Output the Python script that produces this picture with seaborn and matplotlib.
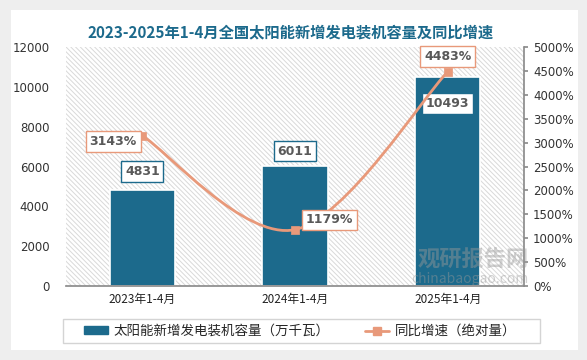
import numpy as np
import seaborn as sns
import matplotlib.pyplot as plt
import matplotlib.ticker as mticker
from matplotlib.path import Path
from matplotlib.patches import PathPatch, Rectangle

CATEGORIES = ["2023年1-4月", "2024年1-4月", "2025年1-4月"]
CAPACITY = [4831, 6011, 10493]          # 万千瓦
GROWTH = [3143, 1179, 4483]              # %
LEFT_TICKS = [0, 2000, 4000, 6000, 8000, 10000, 12000]
RIGHT_TICKS = [0, 500, 1000, 1500, 2000, 2500, 3000, 3500, 4000, 4500, 5000]

TITLE = "2023-2025年1-4月全国太阳能新增发电装机容量及同比增速"
BAR_LABEL = "太阳能新增发电装机容量（万千瓦）"
LINE_LABEL = "同比增速（绝对量）"

BAR_COLOR = "#1c6a8c"
LINE_COLOR = "#e8997a"
TEXT_GRAY = "#595959"

sns.set_theme(style="white")
plt.rcParams["font.family"] = ["Noto Sans CJK SC", "DejaVu Sans"]
plt.rcParams["hatch.linewidth"] = 0.7


def smooth_path(xs, ys):
    # excel style smoothed line: cubic bezier segments (catmull-rom control points)
    pts = np.column_stack([xs, ys]).astype(float)
    n = len(pts)
    verts = [pts[0]]
    codes = [Path.MOVETO]
    for i in range(n - 1):
        p_prev = pts[i - 1] if i > 0 else pts[i]
        p_next = pts[i + 2] if i + 2 < n else pts[i + 1]
        c1 = pts[i] + (pts[i + 1] - p_prev) / 6
        c2 = pts[i + 1] - (p_next - pts[i]) / 6
        verts += [c1, c2, pts[i + 1]]
        codes += [Path.CURVE4] * 3
    return Path(verts, codes)


fig = plt.figure(figsize=(5.87, 3.6), dpi=100)
fig.patch.set_facecolor("#eeeeee")
fig.patches.append(Rectangle((11 / 587, 10 / 360), 567 / 587, 340 / 360,
                             transform=fig.transFigure, facecolor="white",
                             edgecolor="none", zorder=-5))
# legend frame
fig.patches.append(Rectangle((63 / 587, 1 - 343 / 360), 477 / 587, 24 / 360,
                             transform=fig.transFigure, facecolor="white",
                             edgecolor="#d4d4d4", lw=1, zorder=-4))

ax = fig.add_axes([66 / 587, 74 / 360, 458 / 587, 239 / 360])
ax.set_facecolor("none")
ax.add_patch(Rectangle((0, 0), 1, 1, transform=ax.transAxes, facecolor="white",
                       edgecolor="#d9d9d9", hatch="\\\\\\\\\\\\\\", linewidth=0, zorder=0))

sns.barplot(x=CATEGORIES, y=CAPACITY, ax=ax, color=BAR_COLOR, width=0.43,
            saturation=1, edgecolor="white", linewidth=1.2, zorder=2)
ax.set_ylim(0, 12000)
ax.set_yticks(LEFT_TICKS)
ax.set_xlim(-0.5, 2.5)
bar_offsets = [13, 11, -19]
for i, v in enumerate(CAPACITY):
    ax.annotate(f"{v}", (i, v), xytext=(0, bar_offsets[i]),
                textcoords="offset points", ha="center", va="center",
                fontsize=9, fontweight="bold", color=TEXT_GRAY, family="DejaVu Sans",
                bbox=dict(boxstyle="square,pad=0.3", fc="white", ec=BAR_COLOR, lw=1),
                zorder=5)

ax2 = ax.twinx()
ax2.set_ylim(0, 5000)
ax2.set_yticks(RIGHT_TICKS)
ax2.yaxis.set_major_formatter(mticker.FuncFormatter(lambda x, _: f"{x:.0f}%"))
ax2.add_patch(PathPatch(smooth_path(range(len(GROWTH)), GROWTH), fill=False,
                        edgecolor=LINE_COLOR, lw=2, zorder=3))
sns.scatterplot(x=list(range(len(GROWTH))), y=GROWTH, ax=ax2, marker="s", s=40,
                color=LINE_COLOR, edgecolor=LINE_COLOR, zorder=4)
offsets = [(-21, -4), (25, 7), (0, 11)]
for i, v in enumerate(GROWTH):
    ax2.annotate(f"{v}%", (i, v), xytext=offsets[i], textcoords="offset points",
                 ha="center", va="center", fontsize=9, fontweight="bold",
                 color=TEXT_GRAY, family="DejaVu Sans",
                 bbox=dict(boxstyle="square,pad=0.3", fc="white", ec=LINE_COLOR, lw=1),
                 zorder=6)

for a in (ax, ax2):
    for s in ("top", "left", "right"):
        a.spines[s].set_visible(False)
    a.spines["bottom"].set_color("#8c8c8c")
ax2.spines["right"].set_visible(True)
ax2.spines["right"].set_color("#8c8c8c")
ax2.spines["bottom"].set_visible(False)

ax.tick_params(axis="y", labelsize=8.5, labelcolor="#333333", length=0, pad=12)
ax.tick_params(axis="x", labelsize=8.5, labelcolor="#222222", length=0, pad=5)
ax2.tick_params(axis="y", labelsize=8.5, labelcolor="#333333", length=3,
                color="#8c8c8c", direction="out")
for lbl in ax.get_yticklabels() + ax2.get_yticklabels():
    lbl.set_family("DejaVu Sans")

fig.text(291 / 587, 1 - 32 / 360, TITLE, ha="center", va="center", fontsize=11,
         fontweight="bold", color=BAR_COLOR)

fig.text(473 / 587, 1 - 260 / 360, "观研报告网", ha="center", va="center",
         fontsize=16, fontweight="bold", color="#999999", alpha=0.45, zorder=10)
fig.text(470 / 587, 1 - 279 / 360, "chinabaogao.com", ha="center", va="center",
         fontsize=10, color="#999999", alpha=0.45, zorder=10)

handles = [Rectangle((0, 0), 1, 1, color=BAR_COLOR),
           plt.Line2D([], [], color=LINE_COLOR, lw=2, marker="s", markersize=6)]
leg = fig.legend(handles, [BAR_LABEL, LINE_LABEL], loc="center",
                 bbox_to_anchor=(300 / 587, 1 - 331 / 360), ncol=2, fontsize=9.7,
                 frameon=False, handlelength=1.8, handletextpad=0.4,
                 columnspacing=2.6, handleheight=0.5)

fig.savefig("out.png", dpi=100, facecolor=fig.get_facecolor())
